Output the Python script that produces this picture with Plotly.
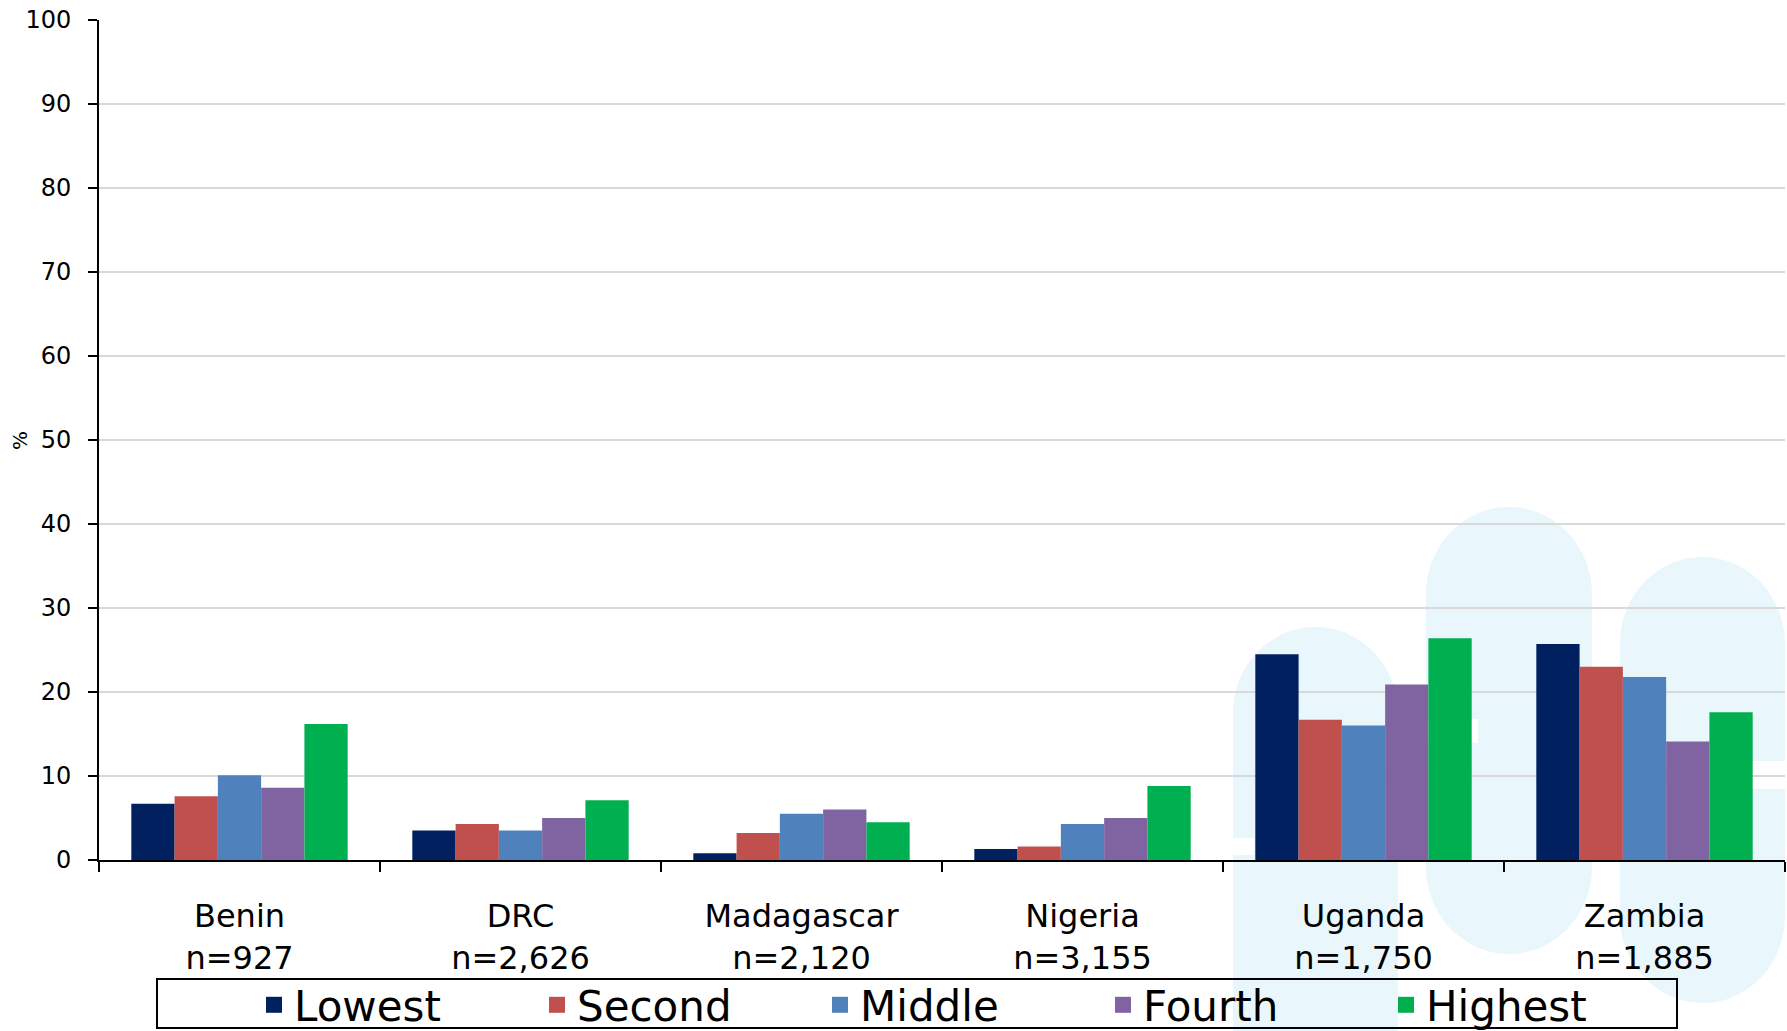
import plotly.graph_objects as go

countries = ["Benin", "DRC", "Madagascar", "Nigeria", "Uganda", "Zambia"]
sample_sizes = ["927", "2,626", "2,120", "3,155", "1,750", "1,885"]
quintiles = ["Lowest", "Second", "Middle", "Fourth", "Highest"]

lowest = [6.7, 3.5, 0.8, 1.3, 24.5, 25.7]
second = [7.6, 4.3, 3.2, 1.6, 16.7, 23.0]
middle = [10.1, 3.5, 5.5, 4.3, 16.0, 21.8]
fourth = [8.6, 5.0, 6.0, 5.0, 20.9, 14.1]
highest = [16.2, 7.1, 4.5, 8.8, 26.4, 17.6]

colors = ["#002060", "#C0504D", "#4F81BD", "#8064A2", "#00B050"]
y_ticks = [0, 10, 20, 30, 40, 50, 60, 70, 80, 90, 100]

categories = [f"{c}<br>n={n}" for c, n in zip(countries, sample_sizes)]
series = [lowest, second, middle, fourth, highest]

FONT = "DejaVu Sans, Verdana, sans-serif"

fig = go.Figure()
for name, vals, col in zip(quintiles, series, colors):
    fig.add_trace(go.Bar(x=categories, y=vals, name=name, marker_color=col,
                         marker_line_width=0, legendgroup=name, showlegend=False))
# legend entries (larger square swatches than the default bar symbol)
for name, col in zip(quintiles, colors):
    fig.add_trace(go.Scatter(x=[None], y=[None], mode="markers", name=name,
                             legendgroup=name, showlegend=True, hoverinfo="skip",
                             marker=dict(symbol="square", size=16, color=col)))

# ---- pixel -> paper conversion for decorations ----
W, H = 1787, 1031
L, R, T, B = 99, 2, 20, 171
PW, PH = W - L - R, H - T - B


def px(x):
    return (x - L) / PW


def py(y):
    return (H - B - y) / PH


def pt(x, y):
    return f"{px(x):.5f},{py(y):.5f}"


def pill(x0, x1, ytop, ybot, round_bottom=True):
    k = 0.5523
    r = (x1 - x0) / 2
    cx = (x0 + x1) / 2
    ry = r * 1.05
    p = f"M{pt(x0, ytop + ry)} "
    p += f"C{pt(x0, ytop + ry - k * ry)} {pt(cx - k * r, ytop)} {pt(cx, ytop)} "
    p += f"C{pt(cx + k * r, ytop)} {pt(x1, ytop + ry - k * ry)} {pt(x1, ytop + ry)} "
    if round_bottom:
        p += f"L{pt(x1, ybot - ry)} "
        p += f"C{pt(x1, ybot - ry + k * ry)} {pt(cx + k * r, ybot)} {pt(cx, ybot)} "
        p += f"C{pt(cx - k * r, ybot)} {pt(x0, ybot - ry + k * ry)} {pt(x0, ybot - ry)} "
    else:
        p += f"L{pt(x1, ybot)} L{pt(x0, ybot)} "
    p += "Z"
    return p


wm = "#E9F6FB"
shapes = [
    dict(type="path", path=pill(1233, 1398, 627, 1031, round_bottom=False)),
    dict(type="path", path=pill(1426, 1592, 507, 954)),
    dict(type="path", path=pill(1620, 1785, 557, 1003)),
]
for s in shapes:
    s.update(xref="paper", yref="paper", fillcolor=wm, line_width=0, layer="below")
cuts = [(1398, 1478, 719, 743), (1708, 1787, 761, 789), (1233, 1254, 838, 855)]
for x0, x1, y0, y1 in cuts:
    shapes.append(dict(type="rect", xref="paper", yref="paper",
                       x0=px(x0), x1=px(x1), y0=py(y1), y1=py(y0),
                       fillcolor="white", line_width=0, layer="below"))
# legend frame
shapes.append(dict(type="rect", xref="paper", yref="paper",
                   x0=px(157), x1=px(1677), y0=py(1028), y1=py(979),
                   line=dict(color="black", width=2), fillcolor="rgba(0,0,0,0)",
                   layer="above"))

fig.update_layout(
    width=W, height=H,
    margin=dict(l=L, r=R, t=T, b=B, autoexpand=False),
    paper_bgcolor="white", plot_bgcolor="rgba(0,0,0,0)",
    barmode="group", bargap=0.23, bargroupgap=0,
    font=dict(family=FONT, color="black"),
    shapes=shapes,
    showlegend=True,
    legend=dict(orientation="h", xref="container", yref="container",
                x=254 / W, xanchor="left",
                y=(H - 1005) / H, yanchor="middle",
                font=dict(size=42, family=FONT, color="black"),
                bgcolor="rgba(0,0,0,0)", borderwidth=0,
                entrywidth=238, entrywidthmode="pixels", itemwidth=30,
                traceorder="normal"),
    annotations=[dict(text="%", xref="paper", yref="paper", x=px(20), y=py(441),
                      xanchor="center", yanchor="middle",
                      showarrow=False, textangle=-90,
                      font=dict(size=20, family=FONT, color="black"))],
)

fig.update_xaxes(
    showline=True, linecolor="black", linewidth=2,
    ticks="outside", tickson="boundaries", ticklen=10, tickwidth=2, tickcolor="black",
    tickfont=dict(size=32, family=FONT, color="black"),
    ticklabelstandoff=27,
    showgrid=False, automargin=False,
)
fig.update_yaxes(
    range=[0, 100], tickvals=y_ticks, ticktext=[str(v) for v in y_ticks],
    showline=True, linecolor="black", linewidth=2,
    ticks="outside", ticklen=9, tickwidth=2, tickcolor="black",
    tickfont=dict(size=24, family=FONT, color="black"),
    ticklabelstandoff=12,
    showgrid=True, gridcolor="#D9D9D9", gridwidth=2,
    zeroline=False, automargin=False,
)

fig.write_html("out.html",
               config={"displayModeBar": False},
               post_script="document.body.style.margin='0';"
                           "document.body.style.overflow='hidden';")
